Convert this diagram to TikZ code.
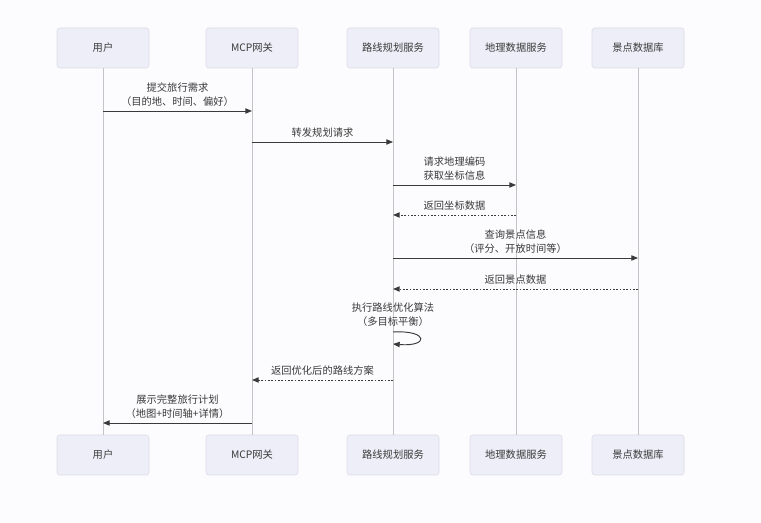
\documentclass[tikz,border=0pt]{standalone}
\usepackage{fontspec}
\newfontfamily\cjk{Noto Sans CJK SC}
\usepackage{tikz}
\usetikzlibrary{arrows.meta, positioning, calc}

\definecolor{actorfill}{HTML}{EEEEF8}
\definecolor{actordraw}{HTML}{DCDCE8}
\definecolor{lifegray}{HTML}{C4C4C8}
\definecolor{msgdark}{HTML}{3A3A3A}
\definecolor{pagebg}{HTML}{FCFBFD}

\tikzset{
  actor/.style={rectangle,rounded corners=2pt,draw=actordraw,fill=actorfill,
                minimum width=69pt,minimum height=30pt,
                font=\cjk\fontsize{7.7}{9}\selectfont,text=msgdark},
  lifeline/.style={draw=lifegray,line width=0.6pt},
  callmsg/.style={draw=msgdark,line width=0.7pt,-{Triangle[length=5pt,width=4pt]}},
  replymsg/.style={draw=msgdark,line width=0.7pt,dash pattern=on 1.2pt off 1.3pt,
                   -{Triangle[length=5pt,width=4pt]}},
  msglabel/.style={font=\cjk\fontsize{7.7}{10.5}\selectfont,text=msgdark,
                   align=center,inner sep=3pt}
}

\begin{document}
\begin{tikzpicture}[x=0.75pt,y=-0.75pt]
      \fill[pagebg] (0,0) rectangle (761,523);
      \useasboundingbox (0,0) rectangle (761,523);

      \node[actor] (userTop)    at(103,48) {用户};
      \node[actor] (gatewayTop) at(252,48) {MCP网关};
      \node[actor] (plannerTop) at(393,48) {路线规划服务};
      \node[actor] (geoTop)     at(516,48) {地理数据服务};
      \node[actor] (spotTop)    at(638,48) {景点数据库};

      \node[actor] (userBot)    at(103,455) {用户};
      \node[actor] (gatewayBot) at(252,455) {MCP网关};
      \node[actor] (plannerBot) at(393,455) {路线规划服务};
      \node[actor] (geoBot)     at(516,455) {地理数据服务};
      \node[actor] (spotBot)    at(638,455) {景点数据库};

      \draw[lifeline] (userTop) -- (userBot);
      \draw[lifeline] (gatewayTop) -- (gatewayBot);
      \draw[lifeline] (plannerTop) -- (plannerBot);
      \draw[lifeline] (geoTop) -- (geoBot);
      \draw[lifeline] (spotTop) -- (spotBot);

      \coordinate (submitA)  at (userTop |- 0,111);
      \coordinate (submitB)  at (gatewayTop |- 0,111);
      \coordinate (forwardA) at (gatewayTop |- 0,142);
      \coordinate (forwardB) at (plannerTop |- 0,142);
      \coordinate (geocodeA) at (plannerTop |- 0,185);
      \coordinate (geocodeB) at (geoTop |- 0,185);
      \coordinate (coordsA)  at (geoTop |- 0,215);
      \coordinate (coordsB)  at (plannerTop |- 0,215);
      \coordinate (queryA)   at (plannerTop |- 0,258);
      \coordinate (queryB)   at (spotTop |- 0,258);
      \coordinate (spotsA)   at (spotTop |- 0,289);
      \coordinate (spotsB)   at (plannerTop |- 0,289);
      \coordinate (loopA)    at (plannerTop |- 0,332);
      \coordinate (loopB)    at (plannerTop |- 0,344);
      \coordinate (routeA)   at (plannerTop |- 0,380);
      \coordinate (routeB)   at (gatewayTop |- 0,380);
      \coordinate (showA)    at (gatewayTop |- 0,423);
      \coordinate (showB)    at (userTop |- 0,423);

      \draw[callmsg] (submitA) -- (submitB)
            node[msglabel,midway,above]{提交旅行需求\\（目的地、时间、偏好）};
      \draw[callmsg] (forwardA) -- (forwardB)
            node[msglabel,midway,above]{转发规划请求};
      \draw[callmsg] (geocodeA) -- (geocodeB)
            node[msglabel,midway,above]{请求地理编码\\获取坐标信息};
      \draw[replymsg] (coordsA) -- (coordsB)
            node[msglabel,midway,above]{返回坐标数据};
      \draw[callmsg] (queryA) -- (queryB)
            node[msglabel,midway,above]{查询景点信息\\（评分、开放时间等）};
      \draw[replymsg] (spotsA) -- (spotsB)
            node[msglabel,midway,above]{返回景点数据};
      \node[msglabel,above=1pt of loopA] (loopLabel) {执行路线优化算法\\（多目标平衡）};
      \draw[callmsg] (loopA) .. controls ($(loopA)+(36,-2)$) and ($(loopB)+(36,3)$) .. (loopB);
      \draw[replymsg] (routeA) -- (routeB)
            node[msglabel,midway,above]{返回优化后的路线方案};
      \draw[callmsg] (showA) -- (showB)
            node[msglabel,midway,above]{展示完整旅行计划\\（地图+时间轴+详情）};
    \end{tikzpicture}
\end{document}
